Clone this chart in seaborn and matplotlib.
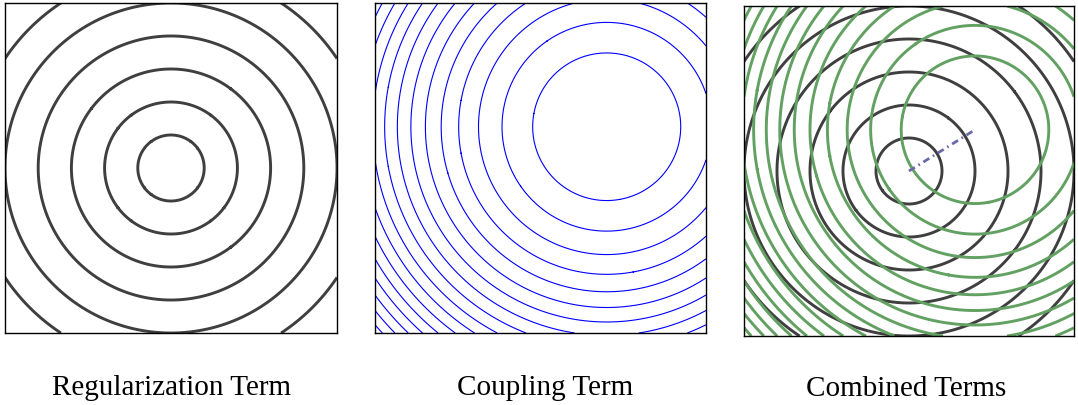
import numpy as np
import pandas as pd
import matplotlib
matplotlib.use("Agg")
import matplotlib.pyplot as plt
import seaborn as sns

# Domain and term parameters
extent = [-5.0, 5.0]
reg_center = [0.0, 0.0]
reg_levels = [1, 2, 3, 4, 5, 6]                 # contour levels of ||x - reg_center||
coup_center = [2.0, 1.25]
coup_levels = [5, 10, 15, 20, 25, 30, 35, 40, 45, 50, 55, 60, 65, 70, 75, 80, 85]  # levels of ||x - coup_center||^2
titles = ["Regularization Term", "Coupling Term", "Combined Terms"]

sns.set_theme(style="white")
plt.rcParams["font.family"] = ["Liberation Serif", "DejaVu Serif"]

g = np.linspace(extent[0], extent[1], 801)
X, Y = np.meshgrid(g, g)
R_reg = np.hypot(X - reg_center[0], Y - reg_center[1])
R2_coup = (X - coup_center[0]) ** 2 + (Y - coup_center[1]) ** 2

W, H = 1078, 405
fig = plt.figure(figsize=(W / 100, H / 100), dpi=100)

# axes boxes in pixels: left, top, width, height
boxes = [(5, 3, 332, 330), (375, 3, 331, 330), (744, 6, 330, 330)]
axes = []
for (l, t, w, h) in boxes:
    ax = fig.add_axes([l / W, (H - t - h) / H, w / W, h / H])
    ax.set_xlim(extent)
    ax.set_ylim(extent)
    ax.set_xticks([])
    ax.set_yticks([])
    for s in ax.spines.values():
        s.set_color("black")
        s.set_linewidth(1.0)
        s.set_visible(True)
    axes.append(ax)

black = "#3f3f3f"
green = "#62a162"
blue = "#0000ff"

axes[0].contour(X, Y, R_reg, levels=reg_levels, colors=black, linewidths=2.1)
axes[1].contour(X, Y, R2_coup, levels=coup_levels, colors=blue, linewidths=0.8)
axes[2].contour(X, Y, R_reg, levels=reg_levels, colors=black, linewidths=2.1)
axes[2].contour(X, Y, R2_coup, levels=coup_levels, colors=green, linewidths=2.1)

seg = pd.DataFrame({"x": [reg_center[0], coup_center[0]],
                    "y": [reg_center[1], coup_center[1]]})
sns.lineplot(data=seg, x="x", y="y", ax=axes[2], color="#6a6aa8", linewidth=2.0,
             dashes=False, sort=False)
axes[2].lines[-1].set_dashes([2.5, 1.5, 0.6, 1.5])
axes[2].set_xlabel("")
axes[2].set_ylabel("")
axes[2].set_xlim(extent)
axes[2].set_ylim(extent)

# title anchor points (centre x, baseline y) in pixels
title_pos = [(171.5, 395), (545, 395), (906, 396)]
for txt, (tx, ty) in zip(titles, title_pos):
    fig.text(tx / W, (H - ty) / H, txt, ha="center", va="baseline",
             fontsize=21, color="black")

fig.savefig("out.png", dpi=100)
